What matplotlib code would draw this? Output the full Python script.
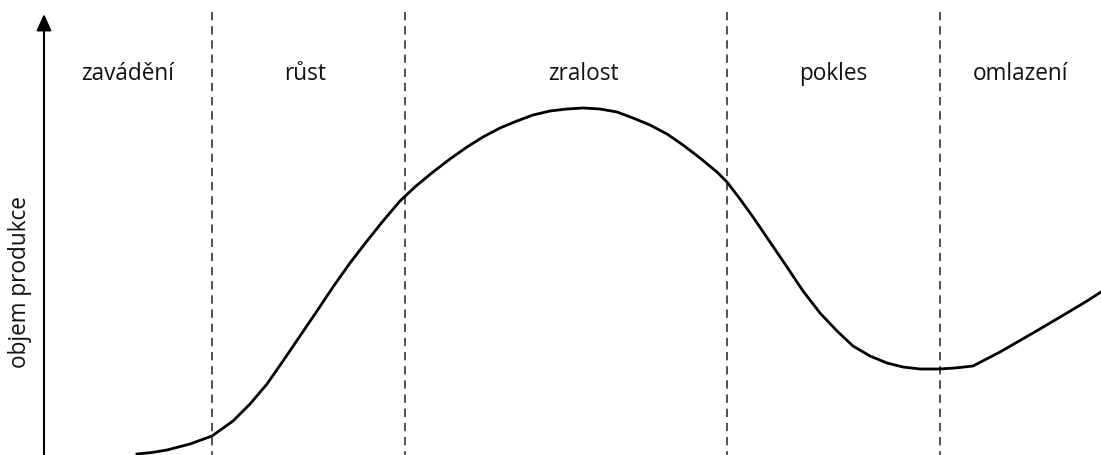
import matplotlib.pyplot as plt
import numpy as np

plt.rcParams['font.family'] = ['Open Sans', 'DejaVu Sans']

# curve (x in px from left, y in px from top)
curve_x = [137, 152, 167, 190, 212, 233, 250, 267, 283, 300, 317, 333, 350, 367, 383,
           400, 416, 433, 450, 467, 483, 500, 517, 533, 550, 567, 583, 600, 617, 633,
           650, 667, 683, 700, 717, 727, 740, 753, 770, 787, 803, 820, 837, 853, 870,
           887, 903, 920, 939, 955, 973, 1000, 1033, 1067, 1087, 1101]
curve_y = [454, 452.5, 450, 444, 436, 421, 404, 384, 361, 336, 311, 287, 263, 241, 221,
           201, 186, 172, 159, 147, 137, 128, 121, 115, 111, 109, 108, 109, 112, 118,
           125, 134, 145, 158, 172, 182, 199, 217, 242, 267, 291, 313, 331, 346, 356,
           363, 367, 369, 369, 368, 366, 352, 333, 313, 301, 292]

phase_bounds = [212, 405, 727, 940]
phase_names = ['zavádění', 'růst', 'zralost', 'pokles', 'omlazení']
phase_centers = [128, 305, 583, 833, 1020]

fig = plt.figure(figsize=(11.01, 4.55), dpi=100)
ax = fig.add_axes([0, 0, 1, 1])
ax.set_xlim(0, 1101)
ax.set_ylim(455, 0)
ax.axis('off')

for b in phase_bounds:
    ax.plot([b, b], [12, 455], color='#333333', lw=1.2, linestyle=(0, (5, 3.5)))

ax.plot(curve_x, curve_y, color='black', lw=2, solid_joinstyle='round')

# y axis with arrow
ax.annotate('', xy=(44, 14), xytext=(44, 456),
            arrowprops=dict(arrowstyle='-|>,head_length=1.0,head_width=0.45',
                            color='black', lw=1.5, shrinkA=0, shrinkB=0))

for name, cx in zip(phase_names, phase_centers):
    ax.text(cx, 80, name, ha='center', va='baseline', fontsize=16.3, color='#111111')

ax.text(20, 282, 'objem produkce', rotation=90, ha='center', va='center',
        fontsize=16.3, color='#111111')

fig.savefig('out.png', dpi=100)
